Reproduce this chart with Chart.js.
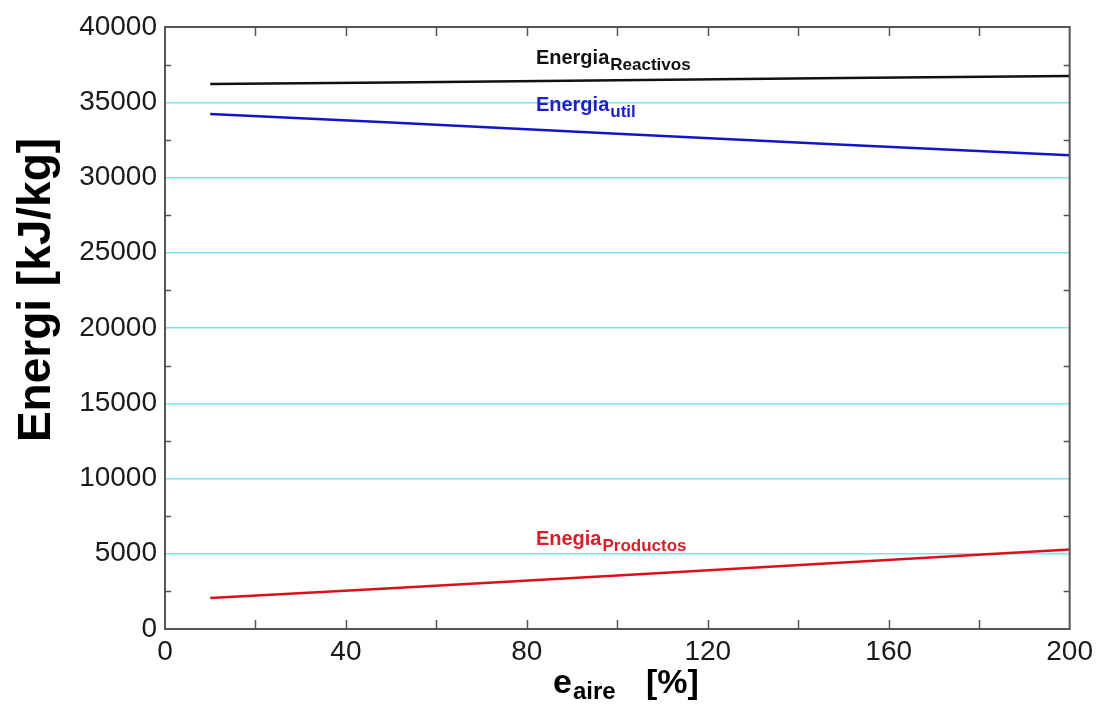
<!DOCTYPE html>
<html>
<head>
<meta charset="utf-8">
<script src="https://cdn.jsdelivr.net/npm/chart.js@4.4.1/dist/chart.umd.min.js"></script>
<style>
html,body{margin:0;padding:0;background:#fff;}
#wrap{width:1099px;height:710px;position:relative;}
</style>
</head>
<body>
<div id="wrap"><canvas id="c"></canvas></div>
<script>
// ---- data ----
const exceso = [10, 50, 100, 150, 200];
const energiaReactivos = [36210, 36320, 36470, 36610, 36750];
const energiaUtil = [34220, 33650, 32900, 32180, 31480];
const energiaProductos = [2060, 2700, 3560, 4420, 5280];
const xTicks = [0, 40, 80, 120, 160, 200];
const yTicks = [0, 5000, 10000, 15000, 20000, 25000, 30000, 35000, 40000];

const FONT = '"Liberation Sans", Arial, Helvetica, sans-serif';

const curveLabels = [
  {main: 'Energia', sub: 'Reactivos', x: 82, y: 37540, color: '#111111'},
  {main: 'Energia', sub: 'util', x: 82, y: 34420, color: '#1f1fc8'},
  {main: 'Enegia', sub: 'Productos', x: 82, y: 5580, color: '#d81e28'}
];

function toPts(xs, ys){ return xs.map((x,i)=>({x:x, y:ys[i]})); }

const framePlugin = {
  id: 'frame',
  afterDatasetsDraw(chart){
    const ctx = chart.ctx, a = chart.chartArea;
    const xs = chart.scales.x, ys = chart.scales.y;
    ctx.save();
    ctx.strokeStyle = '#555555';
    ctx.lineWidth = 2;
    ctx.strokeRect(a.left, a.top, a.right - a.left, a.bottom - a.top);
    ctx.lineWidth = 1.5;
    ctx.beginPath();
    for (let v = 20; v < 200; v += 20) {
      const p = Math.round(xs.getPixelForValue(v)) + 0.5;
      const L = 9;
      ctx.moveTo(p, a.bottom); ctx.lineTo(p, a.bottom - L);
      ctx.moveTo(p, a.top); ctx.lineTo(p, a.top + L);
    }
    for (let v = 2500; v < 40000; v += 5000) {
      const p = Math.round(ys.getPixelForValue(v)) + 0.5;
      const L = 6;
      ctx.moveTo(a.left, p); ctx.lineTo(a.left + L, p);
      ctx.moveTo(a.right, p); ctx.lineTo(a.right - L, p);
    }
    ctx.stroke();
    ctx.restore();
  },
  afterDraw(chart){
    const ctx = chart.ctx;
    const xs = chart.scales.x, ys = chart.scales.y;
    ctx.save();
    ctx.textBaseline = 'alphabetic';
    ctx.textAlign = 'left';
    // curve labels
    curveLabels.forEach(l => {
      const px = xs.getPixelForValue(l.x), py = ys.getPixelForValue(l.y);
      ctx.fillStyle = l.color;
      ctx.font = 'bold 20px ' + FONT;
      ctx.fillText(l.main, px, py);
      const w = ctx.measureText(l.main).width;
      ctx.font = 'bold 17px ' + FONT;
      ctx.fillText(l.sub, px + w + 1, py + 6);
    });
    // y title
    ctx.fillStyle = '#000';
    ctx.save();
    ctx.translate(50, 290);
    ctx.rotate(-Math.PI/2);
    ctx.textAlign = 'center';
    ctx.font = 'bold 46px ' + FONT;
    ctx.fillText('Energi [kJ/kg]', 0, 0);
    ctx.restore();
    // x title
    ctx.font = 'bold 34px ' + FONT;
    ctx.fillText('e', 553, 693);
    const we = ctx.measureText('e').width;
    ctx.font = 'bold 24px ' + FONT;
    ctx.fillText('aire', 553 + we + 1, 699);
    ctx.font = 'bold 34px ' + FONT;
    ctx.fillText('[%]', 646, 693);
    ctx.restore();
  }
};

new Chart(document.getElementById('c'), {
  type: 'line',
  data: {
    datasets: [
      {label: 'Energia Reactivos', data: toPts(exceso, energiaReactivos), borderColor: '#111111', borderWidth: 2.5, pointRadius: 0, tension: 0},
      {label: 'Energia util', data: toPts(exceso, energiaUtil), borderColor: '#1414c8', borderWidth: 2.5, pointRadius: 0, tension: 0},
      {label: 'Enegia Productos', data: toPts(exceso, energiaProductos), borderColor: '#dc101c', borderWidth: 2.5, pointRadius: 0, tension: 0}
    ]
  },
  options: {
    responsive: true,
    maintainAspectRatio: false,
    animation: false,
    layout: {padding: {top: 27, right: 27, left: 0, bottom: 0}},
    plugins: {legend: {display: false}, tooltip: {enabled: false}},
    scales: {
      x: {
        type: 'linear', min: 0, max: 200,
        afterFit(s){ s.height = 81; },
        afterBuildTicks(s){ s.ticks = xTicks.map(v => ({value: v})); },
        grid: {display: false, drawTicks: false},
        border: {display: false},
        ticks: {color: '#1a1a1a', padding: 6, maxRotation: 0, autoSkip: false, font: {family: FONT, size: 28}, callback: v => String(v)}
      },
      y: {
        type: 'linear', min: 0, max: 40000,
        afterFit(s){ s.width = 165; },
        afterBuildTicks(s){ s.ticks = yTicks.map(v => ({value: v})); },
        grid: {color: '#7fe3ea', lineWidth: 1.5, drawTicks: false},
        border: {display: false},
        ticks: {color: '#1a1a1a', padding: 8, autoSkip: false, font: {family: FONT, size: 28}, callback: v => String(v)}
      }
    }
  },
  plugins: [framePlugin]
});
</script>
</body>
</html>
